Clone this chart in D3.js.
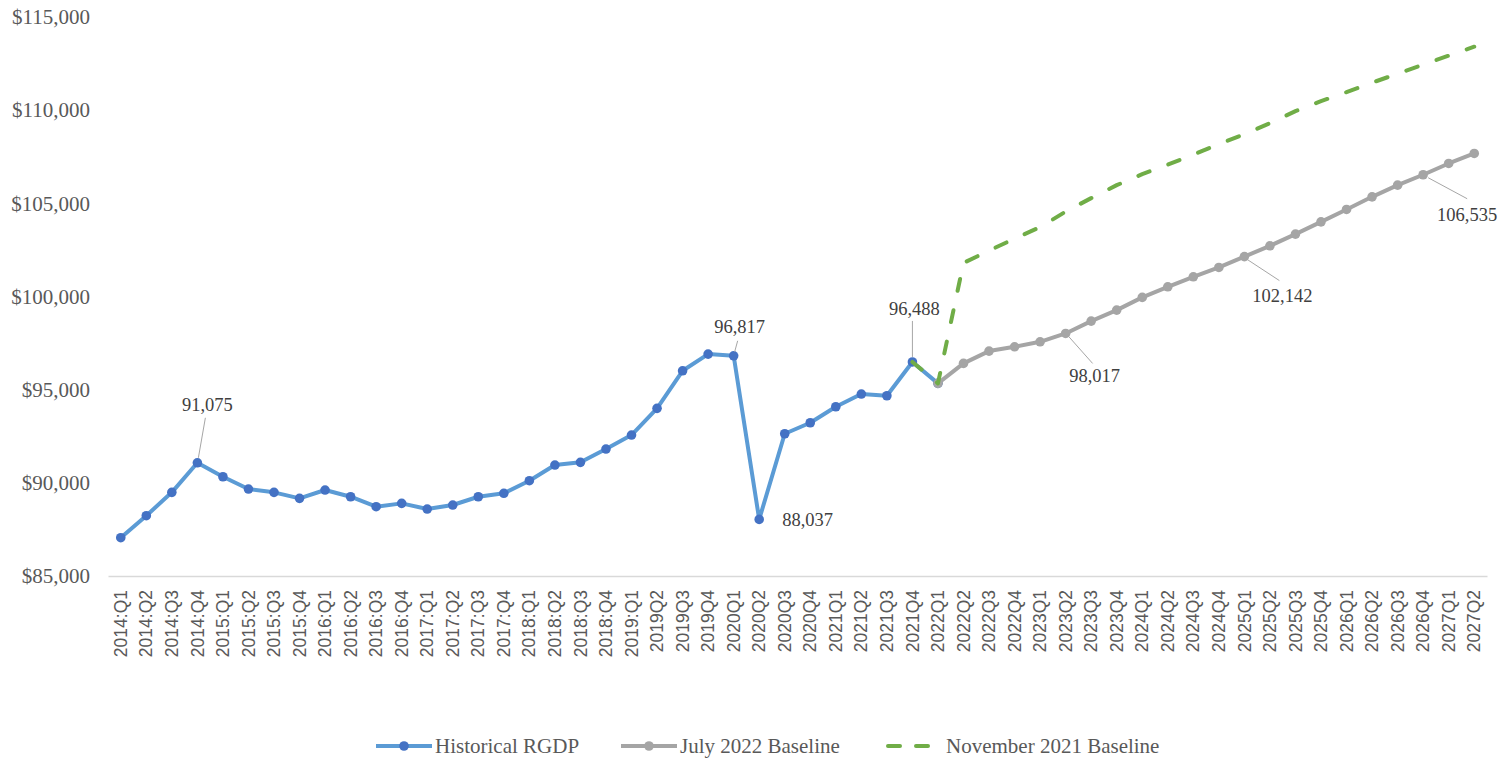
<!DOCTYPE html>
<html lang="en">
<head>
  <meta charset="UTF-8">
  <title>Real GDP: Historical and Baselines</title>
  <script src="https://d3js.org/d3.v7.min.js"></script>
  <style>
    body { margin: 0; background: #fff; }
    svg { display: block; }
  </style>
</head>
<body>
  <div id="chart"></div>
  <script>
    // quarter labels (tick labels as they appear on the axis)
    const quarters = [
      "2014:Q1", "2014:Q2", "2014:Q3", "2014:Q4",
      "2015:Q1", "2015:Q2", "2015:Q3", "2015:Q4",
      "2016:Q1", "2016:Q2", "2016:Q3", "2016:Q4",
      "2017:Q1", "2017:Q2", "2017:Q3", "2017:Q4",
      "2018:Q1", "2018:Q2", "2018:Q3", "2018:Q4",
      "2019:Q1", "2019Q2", "2019Q3", "2019Q4",
      "2020Q1", "2020Q2", "2020Q3", "2020Q4",
      "2021Q1", "2021Q2", "2021Q3", "2021Q4",
      "2022Q1", "2022Q2", "2022Q3", "2022Q4",
      "2023Q1", "2023Q2", "2023Q3", "2023Q4",
      "2024Q1", "2024Q2", "2024Q3", "2024Q4",
      "2025Q1", "2025Q2", "2025Q3", "2025Q4",
      "2026Q1", "2026Q2", "2026Q3", "2026Q4",
      "2027Q1", "2027Q2"
    ];

    // Historical RGDP, 2014:Q1 - 2022Q1
    const historical = [
      87055, 88235, 89490, 91075,
      90327, 89667, 89490, 89168,
      89614, 89254, 88718, 88898,
      88594, 88809, 89254, 89437,
      90113, 90955, 91100, 91813,
      92564, 93997, 96014, 96910,
      96817, 88037, 92634, 93224,
      94083, 94764, 94673, 96488,
      95338
    ];

    // July 2022 Baseline, 2022Q1 - 2027Q2
    const july2022 = [
      95338, 96411, 97071, 97302,
      97570, 98017, 98680, 99270,
      99951, 100520, 101057, 101560,
      102142, 102720, 103348, 104007,
      104673, 105349, 105976, 106535,
      107140, 107677
    ];

    // November 2021 Baseline, 2021Q4 - 2027Q2
    const nov2021 = [
      96488,
      95338, 101800, 102462, 103106,
      103723, 104555, 105279, 105976,
      106567, 107076, 107612, 108176,
      108712, 109303, 109946, 110483,
      110966, 111475, 111958, 112441,
      112924, 113406
    ];

    const yTicks = [85000, 90000, 95000, 100000, 105000, 110000, 115000];

    // which points carry a data label
    const labelled = [
      { series: "hist", quarter: "2014:Q4" },
      { series: "hist", quarter: "2020Q1" },
      { series: "hist", quarter: "2020Q2" },
      { series: "hist", quarter: "2021Q4" },
      { series: "july", quarter: "2023Q2" },
      { series: "july", quarter: "2025Q1" },
      { series: "july", quarter: "2026Q4" }
    ];
    // label placement relative to the point (text offset, leader line ends)
    const placement = [
      { dx: 10, dy: -52, anchor: "middle", leader: [8, -45, 1, -5] },
      { dx: 6, dy: -23, anchor: "middle", leader: [4, -15, 1, -4] },
      { dx: 23, dy: 7, anchor: "start", leader: null },
      { dx: 2, dy: -47, anchor: "middle", leader: [0, -41, 0, -5] },
      { dx: 29, dy: 49, anchor: "middle", leader: [3, 3, 27, 30] },
      { dx: 38, dy: 45, anchor: "middle", leader: [3, 3, 35, 24] },
      { dx: 44, dy: 46, anchor: "middle", leader: [5, 3, 44, 24] }
    ];

    const W = 1501, H = 760;
    const svg = d3.select("#chart").append("svg")
      .attr("width", W)
      .attr("height", H);

    const x = d3.scaleBand().domain(quarters).range([108, 1487]).padding(0);
    const cx = q => x(q) + x.bandwidth() / 2;
    const y = d3.scaleLinear().domain([85000, 115000]).range([576, 17]);

    const histData = historical.map((v, i) => ({ q: quarters[i], v }));
    const julyData = july2022.map((v, i) => ({ q: quarters[32 + i], v }));
    const novData = nov2021.map((v, i) => ({ q: quarters[31 + i], v }));

    //y axis labels
    const yAxis = svg.append("g")
      .attr("transform", "translate(90,0)")
      .call(d3.axisLeft(y).tickValues(yTicks).tickSize(0).tickPadding(0)
        .tickFormat(d => "$" + d3.format(",")(d)));
    yAxis.select(".domain").remove();
    yAxis.selectAll("text")
      .attr("font-family", "'Liberation Serif', 'Times New Roman', serif")
      .attr("font-size", "21px")
      .attr("fill", "#595959");

    //x axis
    const xAxis = svg.append("g")
      .attr("transform", "translate(0,576)")
      .call(d3.axisBottom(x).tickSize(0).tickPadding(0));
    xAxis.select(".domain").attr("stroke", "#D9D9D9").attr("stroke-width", 1.3);
    xAxis.selectAll("text")
      .attr("transform", "rotate(-90)")
      .attr("x", -14)
      .attr("y", 0)
      .attr("dy", "0.35em")
      .style("text-anchor", "end")
      .attr("font-family", "'Liberation Sans', Arial, sans-serif")
      .attr("font-size", "17.5px")
      .attr("fill", "#595959");

    const line = d3.line().x(d => cx(d.q)).y(d => y(d.v));

    //historical series
    svg.append("path")
      .datum(histData)
      .attr("fill", "none")
      .attr("stroke", "#5B9BD5")
      .attr("stroke-width", 4)
      .attr("stroke-linejoin", "round")
      .attr("d", line);
    svg.selectAll(".hist-dot")
      .data(histData)
      .enter().append("circle")
      .attr("class", "hist-dot")
      .attr("cx", d => cx(d.q))
      .attr("cy", d => y(d.v))
      .attr("r", 4.8)
      .attr("fill", "#4472C4");

    //july 2022 baseline
    svg.append("path")
      .datum(julyData)
      .attr("fill", "none")
      .attr("stroke", "#A5A5A5")
      .attr("stroke-width", 4)
      .attr("stroke-linejoin", "round")
      .attr("d", line);
    svg.selectAll(".july-dot")
      .data(julyData)
      .enter().append("circle")
      .attr("class", "july-dot")
      .attr("cx", d => cx(d.q))
      .attr("cy", d => y(d.v))
      .attr("r", 4.8)
      .attr("fill", "#A5A5A5");

    //november 2021 baseline (dashed)
    svg.append("path")
      .datum(novData)
      .attr("fill", "none")
      .attr("stroke", "#70AD47")
      .attr("stroke-width", 4)
      .attr("stroke-linecap", "round")
      .attr("stroke-linejoin", "round")
      .attr("stroke-dasharray", "12,20")
      .attr("d", line);

    //data labels
    const seriesLookup = { hist: histData, july: julyData };
    labelled.forEach((lab, i) => {
      const pt = seriesLookup[lab.series].find(d => d.q === lab.quarter);
      const px = cx(pt.q), py = y(pt.v);
      const p = placement[i];
      if (p.leader) {
        svg.append("line")
          .attr("x1", px + p.leader[0]).attr("y1", py + p.leader[1])
          .attr("x2", px + p.leader[2]).attr("y2", py + p.leader[3])
          .attr("stroke", "#A6A6A6")
          .attr("stroke-width", 1);
      }
      svg.append("text")
        .attr("x", px + p.dx)
        .attr("y", py + p.dy)
        .attr("text-anchor", p.anchor)
        .attr("font-family", "'Liberation Serif', 'Times New Roman', serif")
        .attr("font-size", "18.5px")
        .attr("fill", "#404040")
        .text(d3.format(",")(pt.v));
    });

    //legend
    const legendItems = [
      { name: "Historical RGDP", color: "#5B9BD5", marker: "#4472C4", dash: null, x: 376 },
      { name: "July 2022 Baseline", color: "#A5A5A5", marker: "#A5A5A5", dash: null, x: 621 },
      { name: "November 2021 Baseline", color: "#70AD47", marker: null, dash: "12,16", x: 886 }
    ];
    const legend = svg.selectAll(".legend")
      .data(legendItems)
      .enter().append("g")
      .attr("class", "legend")
      .attr("transform", d => `translate(${d.x},746)`);
    legend.append("line")
      .attr("x1", d => d.dash ? 2 : 0)
      .attr("x2", d => d.dash ? 54 : 56)
      .attr("y1", 0).attr("y2", 0)
      .attr("stroke", d => d.color)
      .attr("stroke-width", 4)
      .attr("stroke-linecap", d => d.dash ? "round" : "butt")
      .attr("stroke-dasharray", d => d.dash);
    legend.filter(d => d.marker)
      .append("circle")
      .attr("cx", 28)
      .attr("cy", 0)
      .attr("r", 4.8)
      .attr("fill", d => d.marker);
    legend.append("text")
      .attr("x", d => d.dash ? 60 : 59)
      .attr("y", 0)
      .attr("dy", "0.35em")
      .attr("font-family", "'Liberation Serif', 'Times New Roman', serif")
      .attr("font-size", "21px")
      .attr("fill", "#595959")
      .text(d => d.name);
  </script>
</body>
</html>
